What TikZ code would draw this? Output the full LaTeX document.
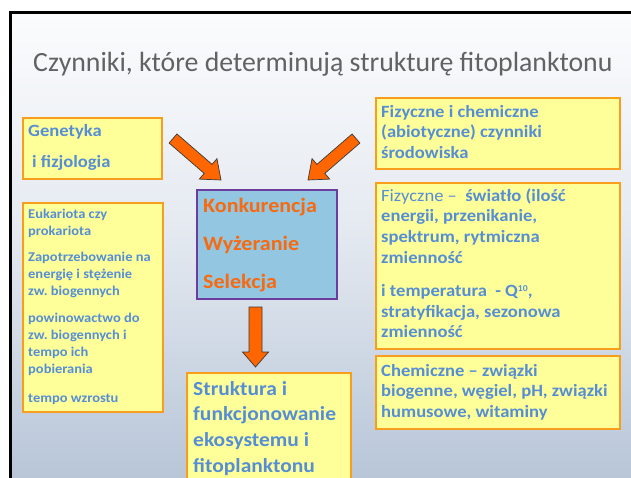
\documentclass[tikz,border=0pt]{standalone}
\usepackage{fontspec}
\setmainfont{Carlito}
\newfontfamily\bodyfont{Carlito}[FakeStretch=1.08]
\usetikzlibrary{calc}
\definecolor{ybg}{HTML}{FFFF99}
\definecolor{yedge}{HTML}{F89E1C}
\definecolor{btext}{HTML}{558ED5}
\definecolor{cfill}{HTML}{93C6E1}
\definecolor{cedge}{HTML}{6A3D9E}
\definecolor{otext}{HTML}{F76A10}
\definecolor{afill}{HTML}{FF6600}
\definecolor{aedge}{HTML}{3A3A3A}
\definecolor{ttext}{HTML}{626262}
\definecolor{bgtop}{HTML}{FBFCFD}
\definecolor{bgmid}{HTML}{E5EAF1}
\definecolor{bgbot}{HTML}{B8C6D8}
\pgfdeclareverticalshading{slidebg}{100bp}{color(0bp)=(bgbot); color(25bp)=(bgbot); color(52bp)=(bgmid); color(75bp)=(bgtop); color(100bp)=(bgtop)}
\tikzset{
  ybox/.style={draw=yedge, fill=ybg, line width=2pt, inner sep=0pt, anchor=north west},
  cbox/.style={draw=cedge, fill=cfill, line width=2pt, inner sep=0pt, anchor=north west},
  txt/.style={anchor=base west, inner sep=0pt, align=flush left, text width=250pt},
  tsmall/.style={txt, text=btext, font=\bodyfont\frenchspacing\fontsize{13.4}{17}\selectfont\bfseries},
  tmed/.style={txt, text=btext, font=\bodyfont\frenchspacing\fontsize{17.2}{20.8}\selectfont\bfseries},
  tbig/.style={txt, text=btext, font=\bodyfont\frenchspacing\fontsize{19.9}{25.7}\selectfont\bfseries},
  tgen/.style={txt, text=btext, font=\bodyfont\frenchspacing\fontsize{17.2}{31}\selectfont\bfseries},
  tcen/.style={txt, text=otext, font=\bodyfont\frenchspacing\fontsize{20.4}{38}\selectfont\bfseries},
  arrowsty/.style={fill=afill, draw=aedge, line width=0.7pt, line join=miter},
  pics/barrow/.style n args={4}{code={
    \draw[arrowsty] (0,-#2) -- ({#1-#4},-#2) -- ({#1-#4},-#3) -- (#1,0)
      -- ({#1-#4},#3) -- ({#1-#4},#2) -- (0,#2) -- cycle;}}
}
\newcommand\blockarrow[5]{%
  \path let \p1=($(#2)-(#1)$), \n1={atan2(\y1,\x1)}, \n2={veclen(\x1,\y1)} in
    (#1) pic[rotate=\n1]{barrow={\n2}{#3}{#4}{#5}};}
\begin{document}
\begin{tikzpicture}[x=1pt, y=-1pt]
\useasboundingbox (0,0) rectangle (631,477);
\clip (0,0) rectangle (631,477);
\fill[white] (0,0) rectangle (631,477);
\shade[shading=slidebg] (10,12) rectangle (640,477);
\draw[line width=3pt] (10.5,490) -- (10.5,12.5) -- (640,12.5);

\node[anchor=base west, inner sep=0pt, text=ttext, font=\fontsize{27.8}{30}\selectfont] (title) at (33,71)
  {Czynniki, które determinują strukturę fitoplanktonu};

% left boxes
\node[ybox, minimum width=139pt, minimum height=61pt] (gen) at (22,117) {};
\node[tgen] (gentxt) at (28,136) {Genetyka\\\hspace*{4pt}i fizjologia};

\node[ybox, minimum width=140pt, minimum height=209pt] (euk) at (22,202) {};
\node[tsmall] (euktxt) at (28,218) {Eukariota czy\\prokariota\\[9pt]
  Zapotrzebowanie na\\energię i stężenie\\zw. biogennych\\[10pt]
  powinowactwo do\\zw. biogennych i\\tempo ich\\pobierania\\[12pt]
  tempo wzrostu};

% centre box
\node[cbox, minimum width=140pt, minimum height=109pt] (cen) at (196,189) {};
\node[tcen] (centxt) at (203,212) {Konkurencja\\Wyżeranie\\Selekcja};

% bottom box
\node[ybox, minimum width=164pt, minimum height=130pt] (bot) at (186,372) {};
\node[tbig] (bottxt) at (193,395) {Struktura i\\funkcjonowanie\\ekosystemu i\\fitoplanktonu};

% right boxes
\node[ybox, minimum width=244pt, minimum height=71pt] (rtop) at (375,97) {};
\node[tmed] (rtoptxt) at (381,117) {Fizyczne i chemiczne\\(abiotyczne) czynniki\\środowiska};

\node[ybox, minimum width=244pt, minimum height=166pt] (rmid) at (375,182) {};
\node[tmed] (rmidtxt) at (381,201) {{\mdseries Fizyczne –}\ \ światło (ilość\\energii, przenikanie,\\spektrum, rytmiczna\\zmienność\\[12pt]
  i temperatura \ - Q\raisebox{5pt}{\fontsize{9}{9}\selectfont 10},\\stratyfikacja, sezonowa\\zmienność};

\node[ybox, minimum width=244pt, minimum height=73pt] (rbot) at (375,355) {};
\node[tmed] (rbottxt) at (381,376) {Chemiczne – związki\\biogenne, węgiel, pH, związki\\humusowe, witaminy};

% block arrows
\coordinate (la0) at (173,138.5);
\coordinate (la1) at (221,180);
\coordinate (ra0) at (356,138.5);
\coordinate (ra1) at (308,180);
\coordinate (da0) at (255.5,307);
\coordinate (da1) at (255.5,367);
\blockarrow{la0}{la1}{6}{13.5}{17}
\blockarrow{ra0}{ra1}{6}{13.5}{17}
\blockarrow{da0}{da1}{6.5}{13}{15}
\end{tikzpicture}
\end{document}
